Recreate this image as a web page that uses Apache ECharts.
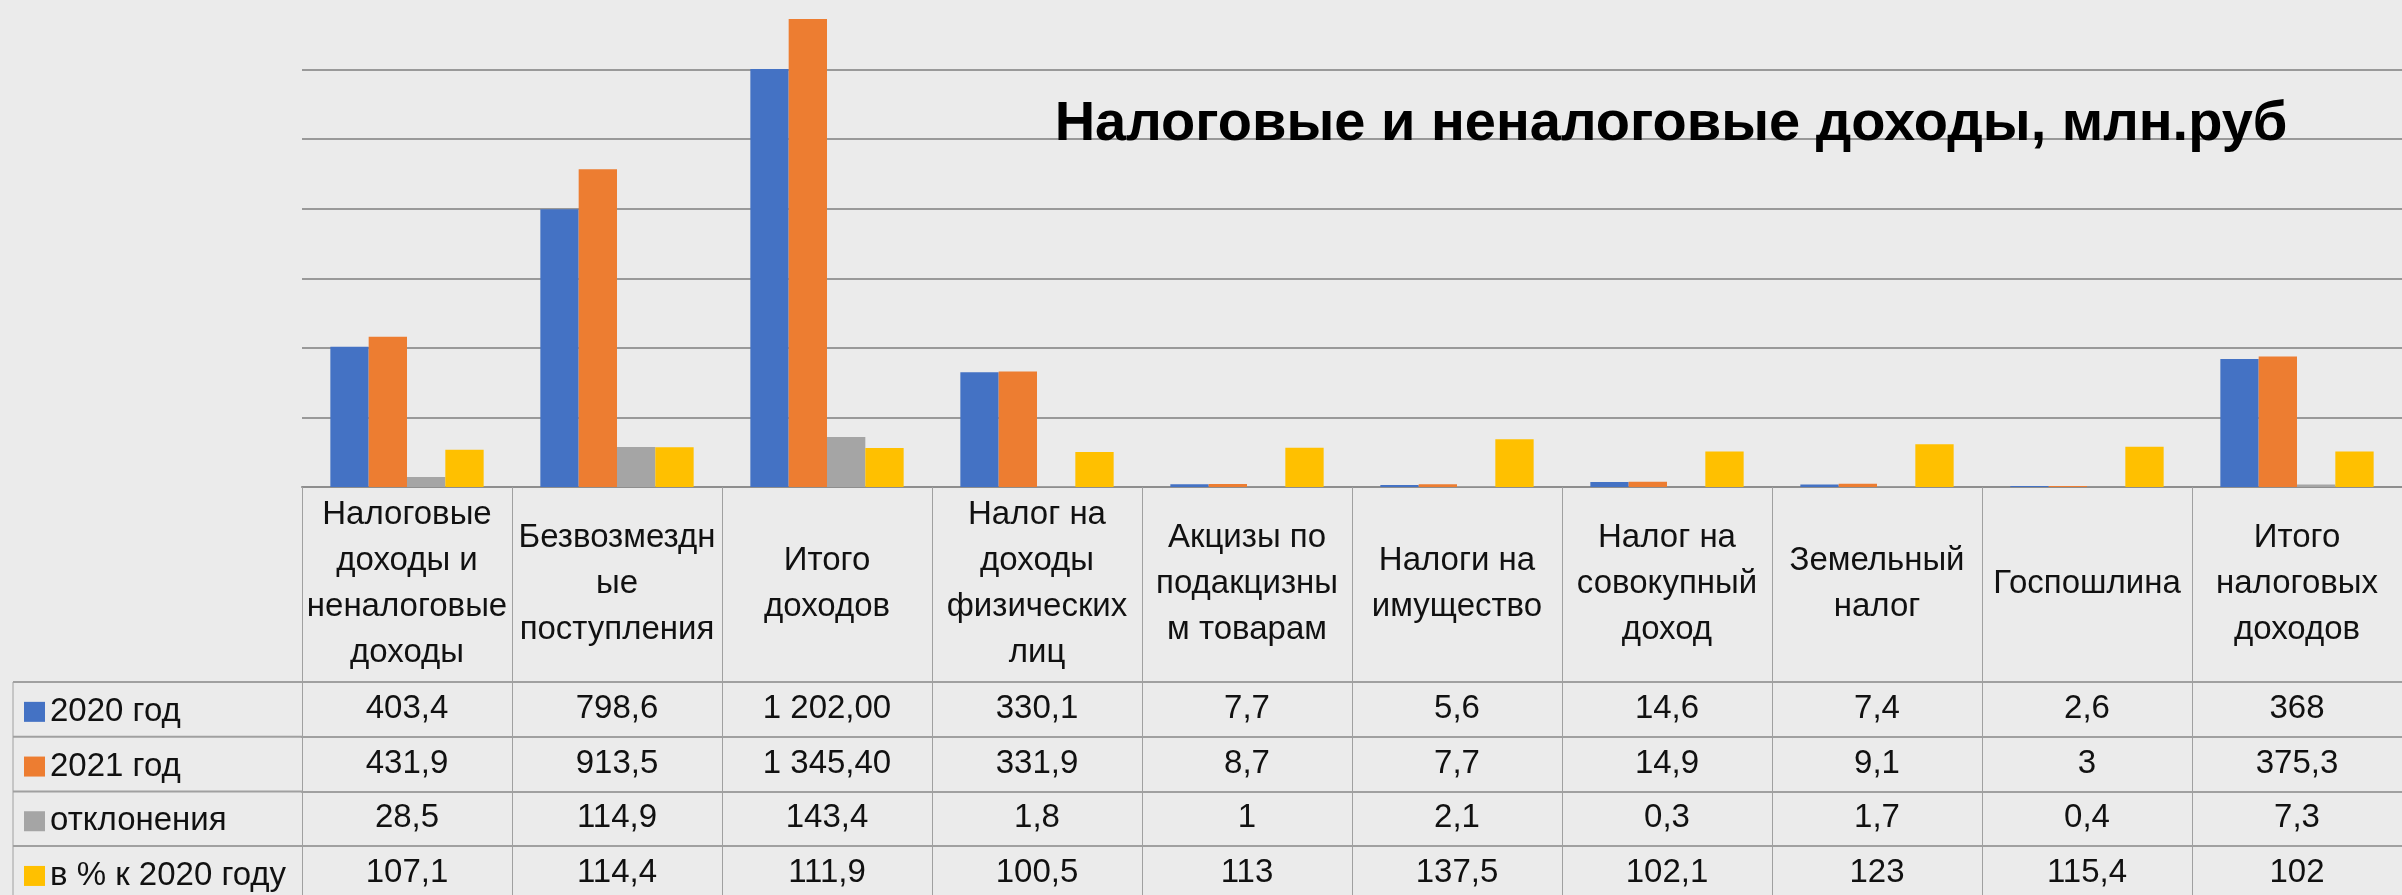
<!DOCTYPE html>
<html>
<head>
<meta charset="utf-8">
<script src="https://cdn.jsdelivr.net/npm/echarts@6/dist/echarts.min.js"></script>
<style>
html, body { margin: 0; padding: 0; background: #ebebeb; }
#main { width: 2402px; height: 895px; }
</style>
</head>
<body>
<div id="main"></div>
<script>
var categories = ['Налоговые\nдоходы и\nненалоговые\nдоходы', 'Безвозмездн\nые\nпоступления', 'Итого\nдоходов',
    'Налог на\nдоходы\nфизических\nлиц', 'Акцизы по\nподакцизны\nм товарам', 'Налоги на\nимущество',
    'Налог на\nсовокупный\nдоход', 'Земельный\nналог', 'Госпошлина', 'Итого\nналоговых\nдоходов'];
var seriesNames = ['2020 год', '2021 год', 'отклонения', 'в % к 2020 году'];
var val2020 = [403.4, 798.6, 1202.00, 330.1, 7.7, 5.6, 14.6, 7.4, 2.6, 368];
var val2021 = [431.9, 913.5, 1345.40, 331.9, 8.7, 7.7, 14.9, 9.1, 3, 375.3];
var deviation = [28.5, 114.9, 143.4, 1.8, 1, 2.1, 0.3, 1.7, 0.4, 7.3];
var percent = [107.1, 114.4, 111.9, 100.5, 113, 137.5, 102.1, 123, 115.4, 102];
var colors = ['#4472c4', '#ed7d31', '#a5a5a5', '#ffc000'];

var dom = document.getElementById('main');
var chart = echarts.init(dom);

var font = 'Liberation Sans';
var lineColor = '#a0a0a0';
var rows = [val2020, val2021, deviation, percent];
var rowTop = 682, rowH = 54.7;

// numbers in the table use a comma, big ones get a space and two decimals
function fmt(v) {
    if (v >= 1000) {
        var s = v.toFixed(2).replace('.', ',');
        return s.slice(0, s.length - 6) + ' ' + s.slice(-6);
    }
    return String(v).replace('.', ',');
}

var xAxes = [{
    type: 'category',
    data: categories,
    position: 'bottom',
    axisLine: { show: true, lineStyle: { color: '#8e8e8e', width: 2 } },
    axisTick: { show: true, interval: 0, length: 195, lineStyle: { color: lineColor, width: 1 } },
    axisLabel: {
        interval: 0, margin: 97, verticalAlign: 'middle',
        fontFamily: font, fontSize: 33, lineHeight: 46, color: '#111'
    }
}];
rows.forEach((row, r) => {
    xAxes.push({
        type: 'category',
        data: categories,
        position: 'bottom',
        offset: 195 + r * rowH,
        axisLine: { show: true, lineStyle: { color: lineColor, width: 2 } },
        axisTick: { show: true, interval: 0, length: 56, lineStyle: { color: lineColor, width: 1 } },
        axisLabel: {
            interval: 0, margin: 27, verticalAlign: 'middle',
            fontFamily: font, fontSize: 33, color: '#111',
            formatter: (value, index) => fmt(row[index])
        }
    });
});

var series = rows.map((row, i) => {
    return {
        name: seriesNames[i],
        type: 'bar',
        xAxisIndex: 0,
        data: row,
        barGap: 0,
        barCategoryGap: '27%',
        itemStyle: { color: colors[i] },
        animation: false
    };
});

// one legend per table row so each sits in its own cell
var legends = seriesNames.map((name, i) => {
    return {
        data: [name],
        left: 24,
        top: rowTop + rowH * (i + 0.5) - 14,
        padding: 0,
        itemWidth: 21,
        itemHeight: 20,
        itemTextGap: 16,
        icon: 'rect',
        selectedMode: false,
        textStyle: { fontFamily: font, fontSize: 33, color: '#111' }
    };
});

var border = [];
[0, 1, 2, 3].forEach((r) => {
    var y = rowTop + r * rowH;
    border.push({ type: 'line', shape: { x1: 13, y1: y, x2: 302, y2: y }, style: { stroke: lineColor, lineWidth: 2 } });
});
border.push({ type: 'line', shape: { x1: 13, y1: rowTop, x2: 13, y2: 895 }, style: { stroke: lineColor, lineWidth: 1 } });

chart.setOption({
    backgroundColor: '#ebebeb',
    animation: false,
    title: {
        text: 'Налоговые и неналоговые доходы, млн.руб',
        left: 1666,
        top: 92,
        textAlign: 'center',
        textStyle: { fontFamily: font, fontSize: 56, fontWeight: 'bold', color: '#000' }
    },
    legend: legends,
    grid: { left: 302, right: -7, top: -3, bottom: 408 },
    xAxis: xAxes,
    yAxis: {
        type: 'value',
        min: 0,
        max: 1400,
        interval: 200,
        axisLabel: { show: false },
        axisLine: { show: false },
        axisTick: { show: false },
        splitLine: { showMaxLine: false, lineStyle: { color: '#999999', width: 2 } }
    },
    series: series,
    graphic: border
});
</script>
</body>
</html>
